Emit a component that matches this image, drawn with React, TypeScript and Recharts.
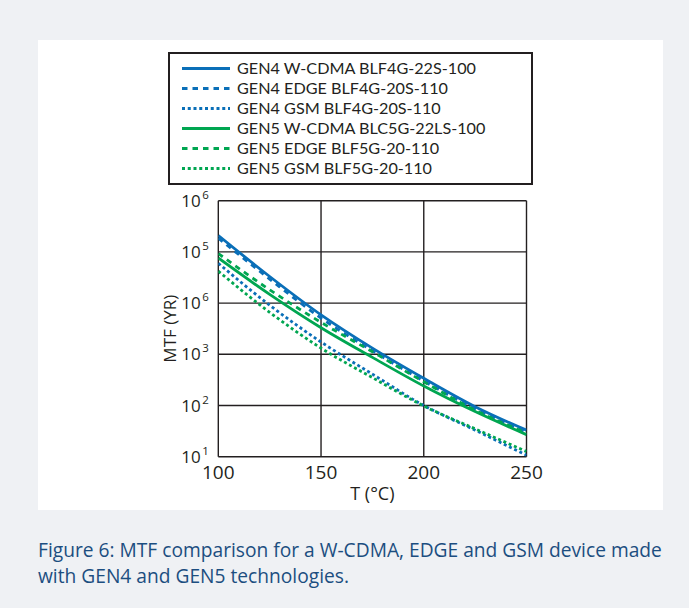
import React from 'react';
import { LineChart, Line, XAxis, YAxis, CartesianGrid, Legend, Label } from 'recharts';

const temps = [100, 125, 150, 175, 200, 225, 250];
const gen4Wcdma = [209000, 33100, 5900, 1320, 340, 95, 33];
const gen4Edge = [186000, 29500, 5100, 1170, 300, 85, 29.5];
const gen4Gsm = [60000, 9100, 1740, 410, 100, 33, 10.7];
const gen5Wcdma = [76000, 14800, 3300, 870, 240, 76, 27];
const gen5Edge = [93000, 18200, 4200, 1120, 290, 81, 29];
const gen5Gsm = [42000, 6600, 1320, 350, 98, 35, 12.6];

const xTicks = [100, 150, 200, 250];
const yTicks = [10, 100, 1000, 10000, 100000, 1000000];
// exponents as printed in the figure (the 10^4 line is labelled "6" there)
const yExponents = ['1', '2', '3', '6', '5', '6'];

const BLUE = '#0a6fb8';
const GREEN = '#00a651';
const INK = '#231f20';
const FONT = '"Open Sans", sans-serif';
// Lato has a shorter line box, so the 20px legend rows don't collide
const LEGEND_FONT = 'Lato, "Open Sans", sans-serif';

const series = [
  { key: 'g4w', name: 'GEN4 W-CDMA BLF4G-22S-100', color: BLUE, dash: undefined, values: gen4Wcdma },
  { key: 'g4e', name: 'GEN4 EDGE BLF4G-20S-110', color: BLUE, dash: '5.5 5', values: gen4Edge },
  { key: 'g4g', name: 'GEN4 GSM BLF4G-20S-110', color: BLUE, dash: '3 2.75', values: gen4Gsm },
  { key: 'g5w', name: 'GEN5 W-CDMA BLC5G-22LS-100', color: GREEN, dash: undefined, values: gen5Wcdma },
  { key: 'g5e', name: 'GEN5 EDGE BLF5G-20-110', color: GREEN, dash: '5.5 5', values: gen5Edge },
  { key: 'g5g', name: 'GEN5 GSM BLF5G-20-110', color: GREEN, dash: '3 2.75', values: gen5Gsm },
];

const data = temps.map((t, i) => {
  const row: Record<string, number> = { t };
  series.forEach(s => { row[s.key] = s.values[i]; });
  return row;
});

const YTick = (props: any) => {
  const { x, y, index } = props;
  return (
    <g>
      <text x={x - 17.5} y={y} dy={6} textAnchor="end" fontSize={17} fill={INK} fontFamily={FONT}>10</text>
      <text x={x - 16} y={y} dy={-2} textAnchor="start" fontSize={11.5} fill={INK} fontFamily={FONT}>
        {yExponents[index]}
      </text>
    </g>
  );
};

const renderLegend = () => (
  <div
    style={{
      width: 365,
      height: 133,
      border: `2px solid ${INK}`,
      boxSizing: 'border-box',
      background: '#fff',
      paddingTop: 4,
      fontFamily: LEGEND_FONT,
      fontSize: 16.2,
      color: INK,
    }}
  >
    {series.map(s => (
      <div key={s.key} style={{ display: 'flex', alignItems: 'center', height: 20, lineHeight: '20px', whiteSpace: 'nowrap' }}>
        <svg width={67} height={20} style={{ display: 'block', flex: 'none' }}>
          <line x1={12} x2={60} y1={10.5} y2={10.5} stroke={s.color} strokeWidth={2.8} strokeDasharray={s.dash} />
        </svg>
        <span>{s.name}</span>
      </div>
    ))}
  </div>
);

export default function App() {
  return (
    <div style={{ position: 'absolute', left: 0, top: 0, width: 689, height: 608, background: '#eff1f4', fontFamily: FONT }}>
      <div style={{ position: 'absolute', left: 38, top: 40, width: 625, height: 470, background: '#fff' }}>
        <LineChart width={625} height={470} data={data} margin={{ top: 160.7, right: 136.5, bottom: 7.3, left: 120 }}>
          <CartesianGrid stroke={INK} strokeWidth={1.4} />
          <XAxis
            dataKey="t"
            type="number"
            domain={[100, 250]}
            ticks={xTicks}
            interval={0}
            allowDataOverflow
            axisLine={false}
            tickLine={false}
            tickSize={0}
            tickMargin={9}
            height={46}
            tick={{ fontSize: 19, fill: INK, fontFamily: FONT }}
          >
            <Label value="T (°C)" position="insideBottom" offset={3} style={{ fontSize: 18, fill: INK, fontFamily: FONT }} />
          </XAxis>
          <YAxis
            type="number"
            scale="log"
            domain={[10, 1000000]}
            ticks={yTicks}
            interval={0}
            allowDataOverflow
            axisLine={false}
            tickLine={false}
            tickSize={0}
            tickMargin={0}
            width={60.3}
            tick={<YTick />}
          >
            <Label
              value="MTF (YR)"
              angle={-90}
              position="insideLeft"
              offset={12}
              style={{ fontSize: 17, fill: INK, fontFamily: FONT, textAnchor: 'middle' }}
            />
          </YAxis>
          <Legend
            verticalAlign="middle"
            align="center"
            layout="horizontal"
            content={renderLegend}
            wrapperStyle={{ position: 'absolute', left: 130, top: 12, width: 365, height: 133 }}
          />
          {series.map(s => (
            <Line
              key={s.key}
              dataKey={s.key}
              name={s.name}
              type="monotone"
              stroke={s.color}
              strokeWidth={2.8}
              strokeDasharray={s.dash}
              dot={false}
              activeDot={false}
              isAnimationActive={false}
            />
          ))}
        </LineChart>
      </div>
      <div
        style={{
          position: 'absolute',
          left: 38,
          top: 536.5,
          fontSize: 19.2,
          lineHeight: '26px',
          color: '#1c4e80',
          whiteSpace: 'nowrap',
        }}
      >
        Figure 6: MTF comparison for a W-CDMA, EDGE and GSM device made
        <br />
        with GEN4 and GEN5 technologies.
      </div>
    </div>
  );
}
